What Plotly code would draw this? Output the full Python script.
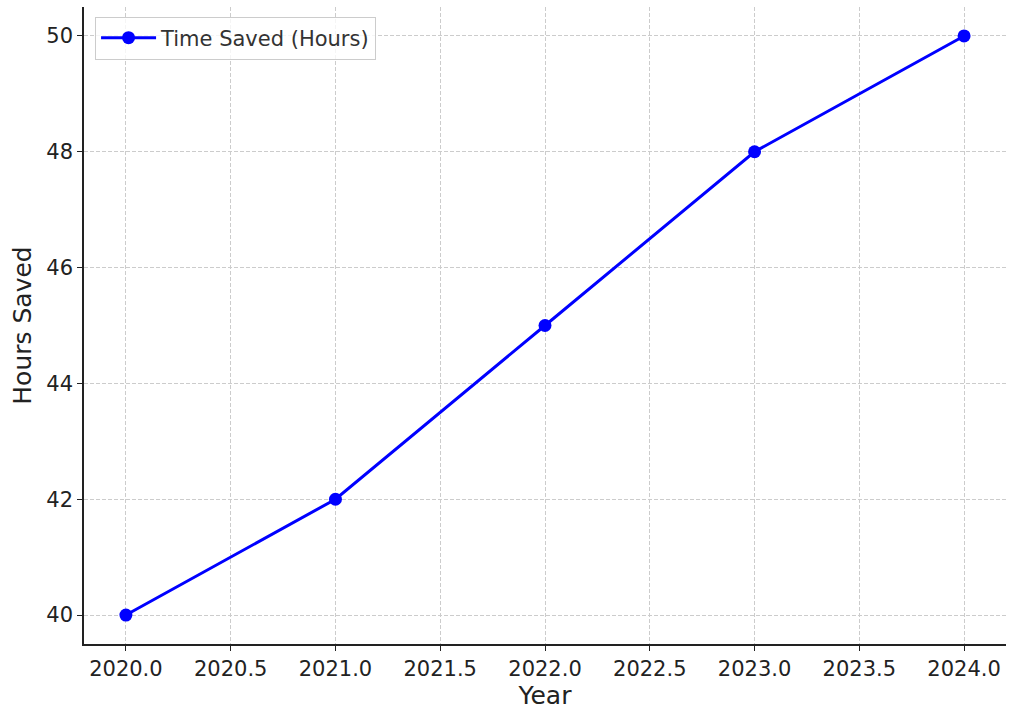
import plotly.graph_objects as go

years = [2020, 2021, 2022, 2023, 2024]
hours_saved = [40, 42, 45, 48, 50]
x_ticks = [2020.0, 2020.5, 2021.0, 2021.5, 2022.0, 2022.5, 2023.0, 2023.5, 2024.0]
x_tick_labels = [f"{v:.1f}" for v in x_ticks]
y_ticks = [40, 42, 44, 46, 48, 50]

fig = go.Figure()
fig.add_trace(go.Scatter(
    x=years, y=hours_saved, mode="lines+markers",
    name="Time Saved (Hours)",
    line=dict(color="#0000ff", width=3),
    marker=dict(color="#0000ff", size=13),
))

axis_common = dict(
    showline=True, linecolor="#222222", linewidth=1.5,
    ticks="outside", ticklen=5, tickwidth=1.2, tickcolor="#222222",
    showgrid=True, gridcolor="#cccccc", griddash="4px,2px", gridwidth=1,
    zeroline=False, tickfont=dict(size=21, color="#222222"),
    mirror=False,
)

fig.update_layout(
    width=1024, height=711,
    margin=dict(l=84, r=18, t=7, b=61),
    paper_bgcolor="white", plot_bgcolor="white",
    font=dict(family="DejaVu Sans", color="#222222"),
    showlegend=True,
    legend=dict(
        x=0.012, y=0.985, xanchor="left", yanchor="top",
        bgcolor="rgba(255,255,255,0.8)", bordercolor="#cccccc", borderwidth=1,
        font=dict(size=21, color="#333333"), itemwidth=55,
    ),
    xaxis=dict(
        axis_common, range=[2019.8, 2024.2],
        tickvals=x_ticks, ticktext=x_tick_labels,
        title=dict(text="Year", font=dict(size=25), standoff=6),
    ),
    yaxis=dict(
        axis_common, range=[39.5, 50.5], tickvals=y_ticks,
        title=dict(text="Hours Saved", font=dict(size=25), standoff=8),
    ),
)

# drop the default body margin so the figure sits at the page corner
fig.write_html("out.html", config={"displayModeBar": False},
               post_script="document.body.style.margin='0';")
